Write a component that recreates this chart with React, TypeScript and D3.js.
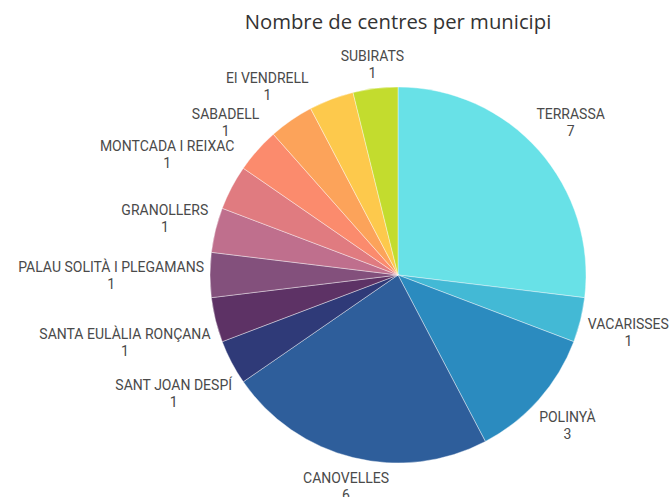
import * as d3 from "d3";

// ── Data ────────────────────────────────────────────────
const MUNICIPIS = [
  "TERRASSA",
  "VACARISSES",
  "POLINYÀ",
  "CANOVELLES",
  "SANT JOAN DESPÍ",
  "SANTA EULÀLIA RONÇANA",
  "PALAU SOLITÀ I PLEGAMANS",
  "GRANOLLERS",
  "MONTCADA I REIXAC",
  "SABADELL",
  "El VENDRELL",
  "(sense etiqueta)",
  "SUBIRATS",
];
const CENTRES = [7, 1, 3, 6, 1, 1, 1, 1, 1, 1, 1, 1, 1];
const COLORS = [
  "#68e1e7", "#43b9d5", "#2b8bbf", "#2e5e9b", "#2f3a78", "#5d3265",
  "#83507c", "#bf6f8d", "#e07b80", "#fb8b6d", "#fca35a", "#fdc94c", "#c3dc2e",
];
// label dropped by the original (overlap)
const HIDDEN = ["(sense etiqueta)"];

// ── Layout ──────────────────────────────────────────────
const W = 669;
const H = 497;
const CX = 398;
const CY = 275;
const R = 188;
const CLEAR_R = 194; // label boxes stay outside this circle
const TITLE_FONT = "'Open Sans', Roboto, sans-serif";
const FONT = "Roboto, 'Open Sans', sans-serif";
const LABEL_SIZE = 14;
const BOX_HH = 17;

let ctx: CanvasRenderingContext2D | null = null;
function textWidth(s: string, size: number) {
  if (!ctx) ctx = document.createElement("canvas").getContext("2d");
  if (!ctx) return s.length * size * 0.6;
  ctx.font = `${size}px Roboto`;
  return ctx.measureText(s).width;
}

// push a label box out along the ray until its nearest corner clears CLEAR_R
function placeLabel(angle: number, hw: number, hh: number) {
  const sx = Math.sin(angle);
  const sy = -Math.cos(angle);
  let lo = 0, hi = 500;
  for (let i = 0; i < 40; i++) {
    const mid = (lo + hi) / 2;
    const dx = Math.max(0, Math.abs(mid * sx) - hw);
    const dy = Math.max(0, Math.abs(mid * sy) - hh);
    if (Math.hypot(dx, dy) < CLEAR_R) lo = mid; else hi = mid;
  }
  return [CX + hi * sx, CY + hi * sy];
}

const pie = d3.pie<number>().sort(null).value(d => d);
const arc = d3.arc<d3.PieArcDatum<number>>().innerRadius(0).outerRadius(R);

export default function App() {
  const arcs = pie(CENTRES);

  return (
    <svg width={W} height={H} viewBox={`0 0 ${W} ${H}`}
      style={{ position: "fixed", left: 0, top: 0, background: "#fff", display: "block" }}>

      {/* ── Title ── */}
      <text x={CX} y={29} textAnchor="middle" fontSize={20.3}
        fontFamily={TITLE_FONT} fill="#333">
        Nombre de centres per municipi
      </text>

      {/* ── Slices ── */}
      <g transform={`translate(${CX},${CY})`}>
        {arcs.map((a, i) => (
          <path key={i} d={arc(a) || ""} fill={COLORS[i]}
            stroke="#fff" strokeWidth={0.4} />
        ))}
      </g>

      {/* ── Labels ── */}
      {arcs.map((a, i) => {
        const name = MUNICIPIS[i];
        if (HIDDEN.includes(name)) return null;
        const mid = (a.startAngle + a.endAngle) / 2;
        const hw = textWidth(name, LABEL_SIZE) / 2;
        const [lx, ly] = placeLabel(mid, hw, BOX_HH);
        return (
          <g key={i} fontFamily={FONT} fontSize={LABEL_SIZE} fill="#4a4a4a" textAnchor="middle">
            <text x={lx} y={ly - 3}>{name}</text>
            <text x={lx} y={ly + 14}>{CENTRES[i]}</text>
          </g>
        );
      })}
    </svg>
  );
}
